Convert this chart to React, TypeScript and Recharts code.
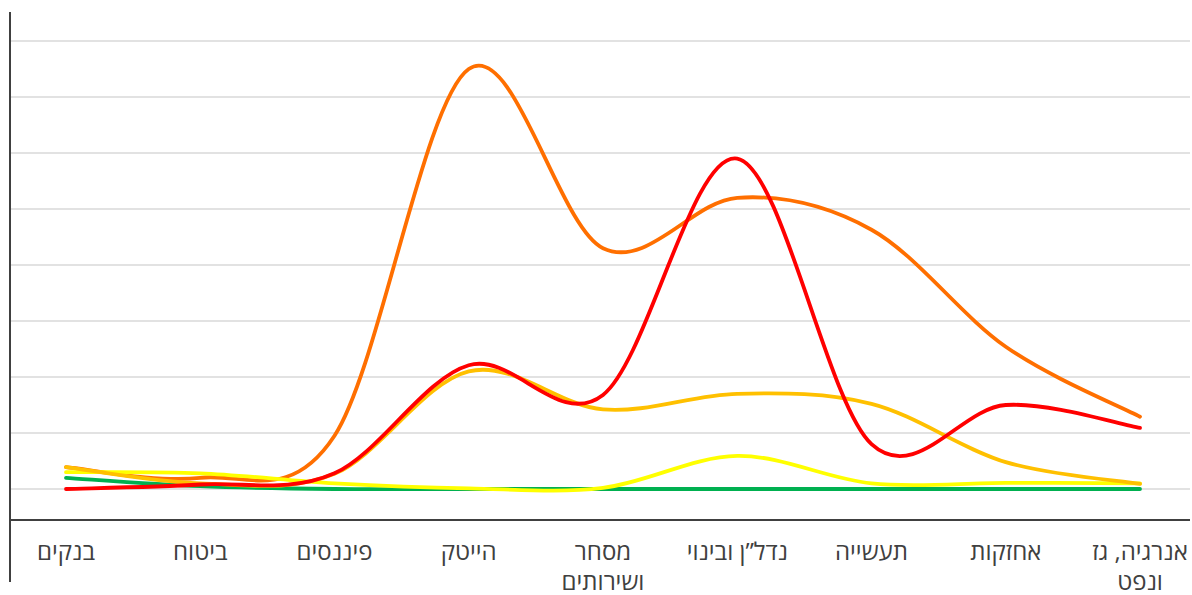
import React from 'react';
import { LineChart, Line, XAxis, YAxis, CartesianGrid } from 'recharts';

const categories = ['בנקים', 'ביטוח', 'פיננסים', 'הייטק', 'מסחר ושירותים', 'נדל”ן ובינוי', 'תעשייה', 'אחזקות', 'אנרגיה, גז ונפט'];
const tickLabels = [['בנקים'], ['ביטוח'], ['פיננסים'], ['הייטק'], ['מסחר', 'ושירותים'], ['נדל”ן ובינוי'], ['תעשייה'], ['אחזקות'], ['אנרגיה, גז', 'ונפט']];

const seriesOrange = [0.39, 0.2, 0.95, 7.5, 4.3, 5.2, 4.63, 2.54, 1.29];
const seriesGreen = [0.2, 0.05, 0, 0, 0, 0, 0, 0, 0];
const seriesYellow = [0.3, 0.28, 0.1, 0.01, 0.02, 0.59, 0.1, 0.11, 0.1];
const seriesAmber = [0.39, 0.1, 0.27, 2.1, 1.42, 1.7, 1.52, 0.48, 0.09];
const seriesRed = [0, 0.08, 0.28, 2.21, 1.68, 5.9, 0.8, 1.5, 1.09];

const yTicks = [0, 1, 2, 3, 4, 5, 6, 7, 8];

const data = categories.map((c, i) => ({
  name: c,
  orange: seriesOrange[i],
  green: seriesGreen[i],
  yellow: seriesYellow[i],
  amber: seriesAmber[i],
  red: seriesRed[i],
}));

// Excel-like smoothing (Catmull-Rom style Bezier)
function excelCurve(context: any) {
  let pts: number[][] = [];
  return {
    areaStart() {},
    areaEnd() {},
    lineStart() {
      pts = [];
    },
    point(x: number, y: number) {
      pts.push([+x, +y]);
    },
    lineEnd() {
      const n = pts.length;
      if (!n) return;
      context.moveTo(pts[0][0], pts[0][1]);
      if (n === 1) return;
      for (let i = 0; i < n - 1; i++) {
        const p0 = pts[Math.max(i - 1, 0)];
        const p1 = pts[i];
        const p2 = pts[i + 1];
        const p3 = pts[Math.min(i + 2, n - 1)];
        const c1x = p1[0] + (p2[0] - p0[0]) / 6;
        const c1y = p1[1] + (p2[1] - p0[1]) / 6;
        const c2x = p2[0] - (p3[0] - p1[0]) / 6;
        const c2y = p2[1] - (p3[1] - p1[1]) / 6;
        context.bezierCurveTo(c1x, c1y, c2x, c2y, p2[0], p2[1]);
      }
    },
  };
}

const FONT = "'Open Sans', 'DejaVu Sans', sans-serif";

const CategoryTick = (props: any) => {
  const { x, y, payload } = props;
  const lines = tickLabels[payload.index] || [String(payload.value)];
  return (
    <text x={x} y={y} textAnchor="middle" fill="#404040" fontSize={24} fontFamily={FONT}>
      {lines.map((l: string, i: number) => (
        <tspan key={i} x={x} dy={i === 0 ? 40 : 30}>
          {l}
        </tspan>
      ))}
    </text>
  );
};

const lineProps = {
  type: excelCurve as any,
  strokeWidth: 3.8,
  strokeLinecap: 'round' as const,
  dot: false,
  activeDot: false,
  isAnimationActive: false,
};

export default function App() {
  return (
    <div style={{ position: 'absolute', left: 0, top: 0, width: 1192, height: 595, background: '#fff' }}>
      <LineChart width={1192} height={595} data={data} margin={{ top: 12, right: 2, bottom: 0, left: 10 }}>
        <CartesianGrid vertical={false} stroke="#d9d9d9" strokeWidth={1.5} syncWithTicks />
        <XAxis
          dataKey="name"
          height={75}
          padding={{ left: 56, right: 50 }}
          axisLine={{ stroke: '#404040', strokeWidth: 2 }}
          tickLine={false}
          tickSize={0}
          tickMargin={0}
          interval={0}
          tick={<CategoryTick />}
        />
        <YAxis
          width={0}
          domain={[-0.554, 8.518]}
          ticks={yTicks}
          tickFormatter={() => ''}
          axisLine={false}
          tickLine={false}
          allowDataOverflow
        />
        <Line dataKey="orange" stroke="#ff6f00" {...lineProps} />
        <Line dataKey="green" stroke="#00b050" {...lineProps} />
        <Line dataKey="yellow" stroke="#ffff00" {...lineProps} />
        <Line dataKey="amber" stroke="#ffc000" {...lineProps} />
        <Line dataKey="red" stroke="#ff0000" {...lineProps} />
      </LineChart>
      <div style={{ position: 'absolute', left: 9, top: 12, width: 2, height: 570, background: '#404040' }} />
    </div>
  );
}
